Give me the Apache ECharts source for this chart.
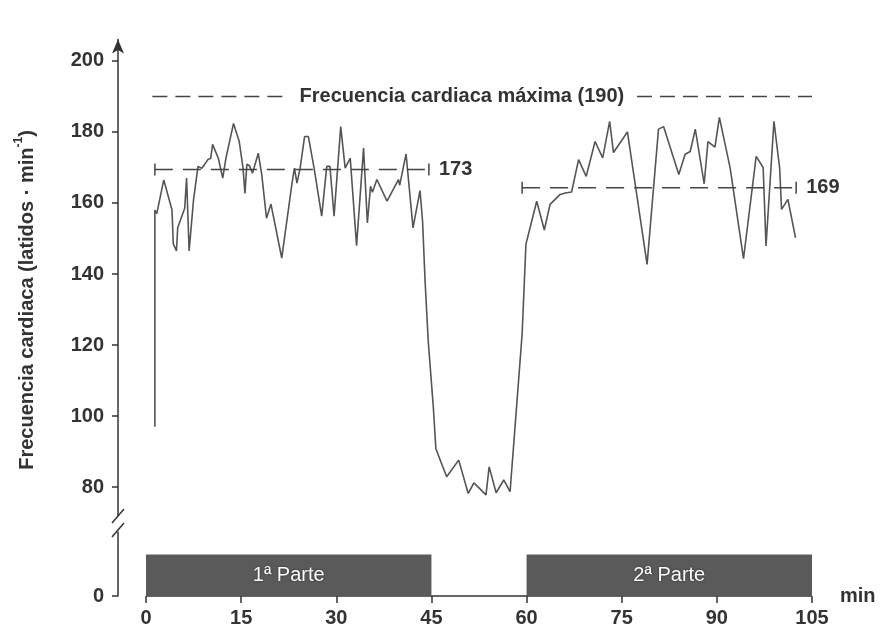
<!DOCTYPE html>
<html><head><meta charset="utf-8">
<script src="https://cdn.jsdelivr.net/npm/echarts@6/dist/echarts.min.js"></script>
<style>html,body{margin:0;padding:0;background:#fff}#c{width:889px;height:632px}</style>
</head><body><div id="c"></div>
<script>
// heart-rate trace: [minute, beats per minute]
const hrPoints = [
 [1.4,97],[1.4,158],[1.7,157],[2.8,166.5],[4.1,158],[4.3,148.5],[4.8,146.5],[5.0,153],[6.1,158.5],[6.4,167],
 [6.8,146.5],[7.5,161],[8.2,170.3],[8.8,169.8],[9.3,171],[9.8,172.3],[10.2,172.5],[10.5,176.5],[11.4,172.6],[12.1,167],
 [12.6,172.6],[13.8,182.4],[14.7,177.3],[15.3,169.8],[15.6,162.7],[15.9,170.9],[16.3,170.5],[16.8,168.4],[17.7,174],[18.25,168],
 [19.0,155.7],[19.7,159.7],[21.4,144.5],[23.0,165.3],[23.4,169.8],[23.8,165.6],[24.3,169.8],[25.0,178.7],[25.6,178.7],[26.5,169.8],
 [27.7,156.3],[28.5,170.3],[29.0,170.3],[29.65,156.3],[30.7,181.5],[31.4,169.8],[32.2,172.6],[33.2,148],[34.3,175.5],[34.9,154.4],
 [35.4,164.7],[35.7,163],[36.4,166.6],[38.0,160.5],[39.8,166.6],[40.0,165],[41.0,173.8],[42.1,153],[43.2,163.5],[43.6,155],
 [44.0,138],[44.5,121],[45.3,102.5],[45.7,90.8],[47.4,82.9],[49.3,87.6],[50.8,78.2],[51.7,81.2],[53.6,77.8],[54.1,85.7],
 [55.2,78.4],[56.4,82],[57.4,78.7],[58.5,104.4],[59.3,123.1],[59.9,148.4],[61.6,160.5],[62.8,152.4],[63.7,159.6],[64.5,161],
 [65.3,162.4],[66.1,162.8],[67.1,163.1],[68.2,172.2],[69.4,167.5],[70.8,177.3],[72.0,172.7],[73.1,183],[73.7,174.2],[75.9,180],
 [79.0,142.7],[80.8,180.8],[81.6,181.5],[84.0,168],[85.0,173.7],[85.8,174.5],[86.6,180.8],[88.0,165.4],[88.6,177.3],[89.7,175.7],
 [90.4,184.1],[92.1,169.8],[94.2,144.3],[96.2,173.1],[97.3,170],[97.75,147.9],[99.0,183],[99.9,169.8],[100.2,158.2],[101.2,161],
 [102.4,150.2]
];
const xTicks = [0, 15, 30, 45, 60, 75, 90, 105];
const yTicks = [80, 100, 120, 140, 160, 180, 200];
const maxHR = 190;
const maxLabel = 'Frecuencia cardiaca máxima (190)';
const maxSegStarts = [1.0, 77.4];
const maxSegEnds = [21.9, 105];
const maxLabelX = 49.8;
const meanLabels = [173, 169];
const meanLevels = [169.4, 164.3];
const meanStarts = [1.4, 59.3];
const meanEnds = [44.6, 102.5];
const periodNames = ['1ª Parte', '2ª Parte'];
const periodStarts = [0, 60];
const periodEnds = [45, 105];
const periodHeight = 0.65;
const matchSpan = [0, 105];

const FONT = 'Liberation Sans, Arial, sans-serif';
const chart = echarts.init(document.getElementById('c'), null, {renderer: 'canvas'});
// y axis sits 28px left of the x = 0 position
const X_MIN = -28 * 105 / 666;
const G1 = {left: 118, right: 77, top: 39.6, bottom: 632 - 515.5};
const G2 = {left: 118, right: 77, top: 532, bottom: 36};
const axisColor = '#333';
const labelStyle = {color: '#333', fontFamily: FONT, fontWeight: 'bold', fontSize: 20};

chart.setOption({
  animation: false,
  backgroundColor: '#fff',
  grid: [G1, G2],
  xAxis: [
    {gridIndex: 0, type: 'value', min: X_MIN, max: 105, show: false},
    {gridIndex: 1, type: 'value', min: X_MIN, max: 105,
     axisLine: {show: false},
     axisTick: {show: true, length: 7, customValues: xTicks, lineStyle: {color: axisColor, width: 1.5}},
     axisLabel: Object.assign({margin: 12, customValues: xTicks}, labelStyle),
     splitLine: {show: false},
     name: 'min', nameLocation: 'end', nameGap: 28,
     nameTextStyle: Object.assign({verticalAlign: 'middle', padding: [50, 0, 0, 0]}, labelStyle)}
  ],
  yAxis: [
    {gridIndex: 0, type: 'value', min: 72, max: 206,
     axisLine: {show: true, onZero: false, symbol: ['none', 'arrow'], symbolSize: [9, 14], lineStyle: {color: axisColor, width: 1.5}},
     axisTick: {show: true, length: 6, customValues: yTicks, lineStyle: {color: axisColor, width: 1.5}},
     axisLabel: Object.assign({margin: 14, customValues: yTicks}, labelStyle),
     splitLine: {show: false}},
    {gridIndex: 1, type: 'value', min: 0, max: 1,
     axisLine: {show: true, onZero: false, lineStyle: {color: axisColor, width: 1.5}},
     axisTick: {show: true, length: 6, customValues: [0], lineStyle: {color: axisColor, width: 1.5}},
     axisLabel: Object.assign({margin: 14, customValues: [0]}, labelStyle),
     splitLine: {show: false}}
  ],
  series: [
    {type: 'line', xAxisIndex: 0, yAxisIndex: 0, data: hrPoints, showSymbol: false, symbol: 'none',
     lineStyle: {color: '#555', width: 1.6}, z: 3},
    {type: 'custom', xAxisIndex: 0, yAxisIndex: 0, z: 4,
     data: meanStarts.map((s, i) => [s, meanEnds[i], meanLevels[i]]),
     encode: {x: [0, 1], y: 2},
     renderItem: function (params, api) {
       const a = api.coord([api.value(0), api.value(2)]);
       const b = api.coord([api.value(1), api.value(2)]);
       const cap = 6, st = {stroke: '#444', lineWidth: 1.5};
       return {type: 'group', children: [
         {type: 'line', shape: {x1: a[0], y1: a[1], x2: b[0], y2: b[1]}, style: Object.assign({lineDash: [18, 10]}, st)},
         {type: 'line', shape: {x1: a[0], y1: a[1] - cap, x2: a[0], y2: a[1] + cap}, style: st},
         {type: 'line', shape: {x1: b[0], y1: b[1] - cap, x2: b[0], y2: b[1] + cap}, style: st},
         {type: 'text', style: {x: b[0] + 10, y: b[1], text: String(meanLabels[params.dataIndex]), fill: '#333',
           fontFamily: FONT, fontWeight: 'bold', fontSize: 20, verticalAlign: 'middle', align: 'left'}}
       ]};
     }},
    {type: 'custom', xAxisIndex: 0, yAxisIndex: 0, z: 4,
     data: maxSegStarts.map((s, i) => [s, maxSegEnds[i], maxHR]),
     encode: {x: [0, 1], y: 2},
     renderItem: function (params, api) {
       const a = api.coord([api.value(0), api.value(2)]);
       const b = api.coord([api.value(1), api.value(2)]);
       return {type: 'line', shape: {x1: a[0], y1: a[1], x2: b[0], y2: b[1]},
         style: {stroke: '#444', lineWidth: 1.5, lineDash: [15, 8]}};
     }},
    {type: 'custom', xAxisIndex: 0, yAxisIndex: 0, z: 4,
     data: [[maxLabelX, maxHR]],
     renderItem: function (params, api) {
       const p = api.coord([api.value(0), api.value(1)]);
       return {type: 'text', style: {x: p[0], y: p[1], text: maxLabel, fill: '#333',
         fontFamily: FONT, fontWeight: 'bold', fontSize: 20, align: 'center', verticalAlign: 'middle'}};
     }},
    {type: 'custom', xAxisIndex: 1, yAxisIndex: 1, z: 1,
     data: [[matchSpan[0], matchSpan[1], 0]],
     encode: {x: [0, 1], y: 2},
     renderItem: function (params, api) {
       const a = api.coord([api.value(0), api.value(2)]);
       const b = api.coord([api.value(1), api.value(2)]);
       return {type: 'line', shape: {x1: a[0], y1: a[1], x2: b[0], y2: b[1]},
         style: {stroke: axisColor, lineWidth: 1.5}};
     }},
    {type: 'custom', xAxisIndex: 1, yAxisIndex: 1, z: 2,
     data: periodStarts.map((s, i) => [s, periodEnds[i], periodHeight]),
     encode: {x: [0, 1], y: 2},
     renderItem: function (params, api) {
       const s = api.coord([api.value(0), 0]);
       const e = api.coord([api.value(1), api.value(2)]);
       return {type: 'rect', shape: {x: s[0], y: e[1], width: e[0] - s[0], height: s[1] - e[1]},
         style: {fill: '#5a5a5a'},
         textContent: {style: {text: periodNames[params.dataIndex], fill: '#fff', fontFamily: FONT, fontSize: 20,
           textShadowColor: '#222', textShadowBlur: 2}},
         textConfig: {position: 'inside'}};
     }}
  ],
  graphic: [
    {type: 'text', x: 25, y: 300, rotation: Math.PI / 2,
     style: {text: '{a|Frecuencia cardiaca (latidos · min}{s|-1}{a|)}', align: 'center', verticalAlign: 'middle',
       rich: {a: {fontFamily: FONT, fontSize: 20, fontWeight: 'bold', fill: '#333', lineHeight: 24, verticalAlign: 'bottom'},
              s: {fontFamily: FONT, fontSize: 12, fontWeight: 'bold', fill: '#333', lineHeight: 24, verticalAlign: 'top'}}}},
    {type: 'line', shape: {x1: 112, y1: 523, x2: 124, y2: 509}, style: {stroke: '#333', lineWidth: 1.5}},
    {type: 'line', shape: {x1: 112, y1: 537, x2: 124, y2: 523}, style: {stroke: '#333', lineWidth: 1.5}}
  ]
});
</script></body></html>
